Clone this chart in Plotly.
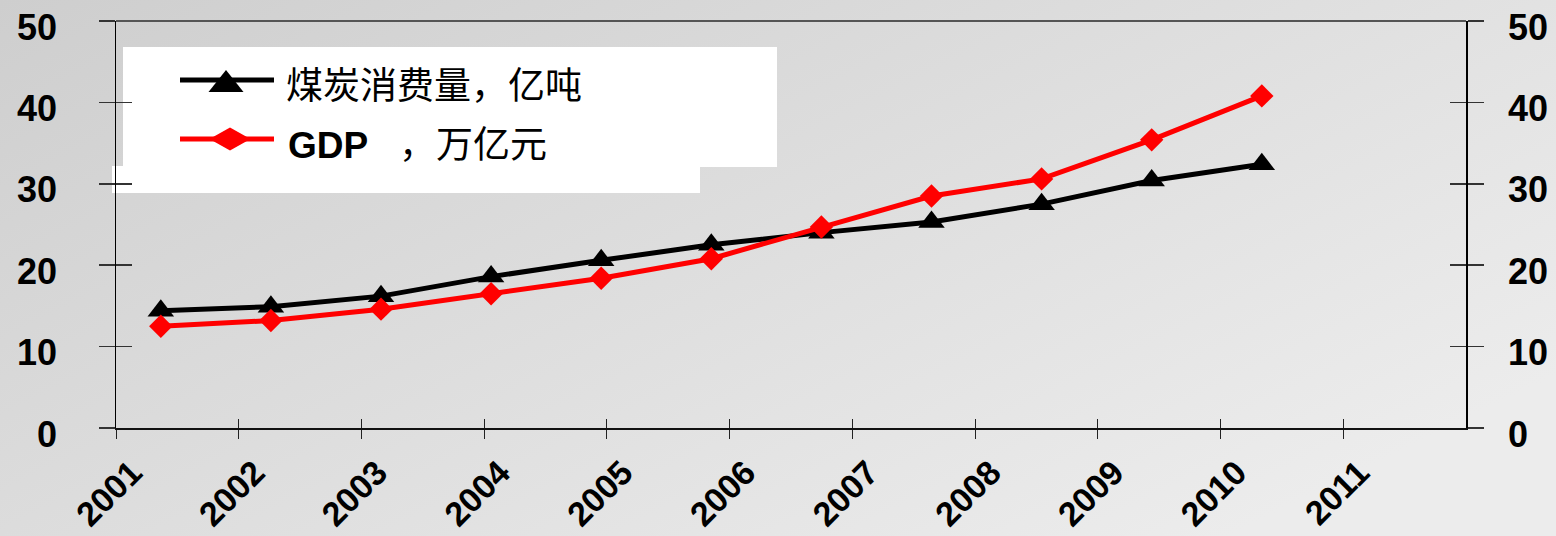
import base64
import plotly.graph_objects as go

# ---------------- data ----------------
data_years = [2000, 2001, 2002, 2003, 2004, 2005, 2006, 2007, 2008, 2009, 2010]
coal = [14.4, 14.9, 16.2, 18.6, 20.6, 22.5, 24.0, 25.3, 27.5, 30.4, 32.4]   # 亿吨
gdp = [12.5, 13.2, 14.6, 16.5, 18.4, 20.8, 24.7, 28.5, 30.6, 35.4, 40.8]    # 万亿元
tick_labels = ["2001", "2002", "2003", "2004", "2005", "2006", "2007", "2008", "2009", "2010", "2011"]
y_ticks = [0, 10, 20, 30, 40, 50]
series_names = ["煤炭消费量，亿吨", "<b>GDP</b>\u00a0\u00a0\u00a0，万亿元"]

# ---------------- layout geometry ----------------
W, H = 1556, 536
ML, MR, MT, MB = 116, 90, 21, 108
PW = W - ML - MR
PH = H - MT - MB


def px(x):
    return (x - ML) / PW


def py(y):
    return (H - MB - y) / PH


# data axis mapping: first point 44.8 px right of the axis, 110.1 px per year
step = 110.1
x0_off = 160.8 - ML
xrng = [data_years[0] - x0_off / step, data_years[0] + (PW - x0_off) / step]
# year tick marks divide the axis into equal slots
n_slots = len(tick_labels)
tick_pos = [xrng[0] + k * (xrng[1] - xrng[0]) / n_slots for k in range(n_slots)]

svg = (
    '<svg xmlns="http://www.w3.org/2000/svg" width="1556" height="536" preserveAspectRatio="none">'
    '<defs><linearGradient id="g" x1="0" y1="0" x2="1" y2="0.7">'
    '<stop offset="0" stop-color="#cecece"/><stop offset="1" stop-color="#ececec"/>'
    '</linearGradient></defs><rect width="1556" height="536" fill="url(#g)"/></svg>'
)
bg_src = "data:image/svg+xml;base64," + base64.b64encode(svg.encode()).decode()

fig = go.Figure()
fig.add_trace(go.Scatter(
    x=data_years, y=coal, mode="lines+markers",
    line=dict(color="black", width=5),
    marker=dict(symbol="triangle-up", size=23, color="black"),
    name="煤炭消费量，亿吨", showlegend=False, hoverinfo="skip",
))
fig.add_trace(go.Scatter(
    x=data_years, y=gdp, mode="lines+markers",
    line=dict(color="#ff0000", width=5),
    marker=dict(symbol="diamond", size=18, color="#ff0000"),
    name="GDP，万亿元", showlegend=False, hoverinfo="skip",
))
# invisible carrier traces so the overlay (tick-only) axes get drawn
for xa, ya in [("x2", "y"), ("x", "y2"), ("x", "y3"), ("x", "y4")]:
    fig.add_trace(go.Scatter(x=data_years, y=coal, xaxis=xa, yaxis=ya, mode="lines",
                             line=dict(width=0), opacity=0, showlegend=False,
                             hoverinfo="skip"))

labfont = dict(family="Liberation Sans, Arial", size=36, color="black", weight="bold")
xtickfont = dict(family="Liberation Sans, Arial", size=34, color="black", weight="bold")
common = dict(automargin=False, showgrid=False, zeroline=False)

fig.update_layout(
    template="none",
    width=W, height=H,
    margin=dict(l=ML, r=MR, t=MT, b=MB, pad=0, autoexpand=False),
    paper_bgcolor="rgba(0,0,0,0)", plot_bgcolor="rgba(0,0,0,0)",
    showlegend=False, hovermode=False,
    xaxis=dict(range=xrng, tickvals=tick_pos, ticktext=tick_labels,
               tickangle=-45, ticks="outside", ticklen=9, tickwidth=1, tickcolor="#222",
               showline=True, linecolor="#111", linewidth=2,
               tickfont=xtickfont, ticklabelshift=16, **common),
    xaxis2=dict(range=xrng, tickvals=tick_pos, overlaying="x", anchor="y",
                ticks="inside", ticklen=9, tickwidth=1, tickcolor="#222",
                showticklabels=False, showline=False, **common),
    yaxis=dict(range=[0, 50], tickvals=y_ticks, ticks="outside", ticklen=16, tickwidth=1.5,
               tickcolor="#333", showline=True, linecolor="black", linewidth=1.5,
               showticklabels=False, **common),
    yaxis2=dict(range=[0, 50], tickvals=y_ticks, overlaying="y", side="right", anchor="x",
                ticks="outside", ticklen=16, tickwidth=1.5, tickcolor="#333",
                showline=True, linecolor="black", linewidth=1.5,
                showticklabels=False, **common),
    yaxis3=dict(range=[0, 50], tickvals=y_ticks, overlaying="y", side="left", anchor="x",
                ticks="inside", ticklen=16, tickwidth=1.5, tickcolor="#333",
                showticklabels=False, showline=False, **common),
    yaxis4=dict(range=[0, 50], tickvals=y_ticks, overlaying="y", side="right", anchor="x",
                ticks="inside", ticklen=16, tickwidth=1.5, tickcolor="#333",
                showticklabels=False, showline=False, **common),
    images=[dict(source=bg_src, xref="paper", yref="paper", x=px(0), y=py(0),
                 sizex=W / PW, sizey=H / PH, sizing="stretch", xanchor="left",
                 yanchor="top", layer="below")],
)

shapes = [
    dict(type="rect", xref="paper", yref="paper", x0=px(123), x1=px(777), y0=py(167), y1=py(47),
         fillcolor="white", line=dict(width=0), layer="below"),
    dict(type="rect", xref="paper", yref="paper", x0=px(112), x1=px(700), y0=py(193), y1=py(166),
         fillcolor="white", line=dict(width=0), layer="below"),
    dict(type="line", xref="paper", yref="paper", x0=0, x1=1, y0=1, y1=1,
         line=dict(color="#555", width=2)),
    dict(type="line", xref="paper", yref="paper", x0=px(180), x1=px(274), y0=py(80), y1=py(80),
         line=dict(color="black", width=5)),
    dict(type="path", xref="paper", yref="paper",
         path=f"M{px(208.5)},{py(92)} L{px(243.5)},{py(92)} L{px(226)},{py(70)} Z",
         fillcolor="black", line=dict(width=0)),
    dict(type="line", xref="paper", yref="paper", x0=px(180), x1=px(274), y0=py(139), y1=py(139),
         line=dict(color="#ff0000", width=5)),
    dict(type="path", xref="paper", yref="paper",
         path=f"M{px(209.5)},{py(139)} L{px(230)},{py(127.5)} L{px(250.5)},{py(139)} L{px(230)},{py(150.5)} Z",
         fillcolor="#ff0000", line=dict(width=0)),
]
fig.update_layout(shapes=shapes)

legfont = dict(family="Liberation Sans, Noto Sans CJK SC", size=37, color="black")
annots = [
    dict(xref="paper", yref="paper", x=px(284), y=py(86), text=series_names[0],
         showarrow=False, xanchor="left", yanchor="middle", font=legfont),
    dict(xref="paper", yref="paper", x=px(286), y=py(145), text=series_names[1],
         showarrow=False, xanchor="left", yanchor="middle", font=legfont),
]
# y-axis value labels on both sides (sit slightly below their tick, as in the original)
for v in y_ticks:
    annots.append(dict(xref="paper", yref="y", x=px(59), y=v, yshift=-6, text=str(v),
                       showarrow=False, xanchor="right", yanchor="middle", font=labfont))
    annots.append(dict(xref="paper", yref="y", x=px(1506), y=v, yshift=-6, text=str(v),
                       showarrow=False, xanchor="left", yanchor="middle", font=labfont))
fig.update_layout(annotations=annots)

fig.write_html("out.html", config={"displayModeBar": False, "staticPlot": True},
               post_script="document.body.style.margin='0';")
